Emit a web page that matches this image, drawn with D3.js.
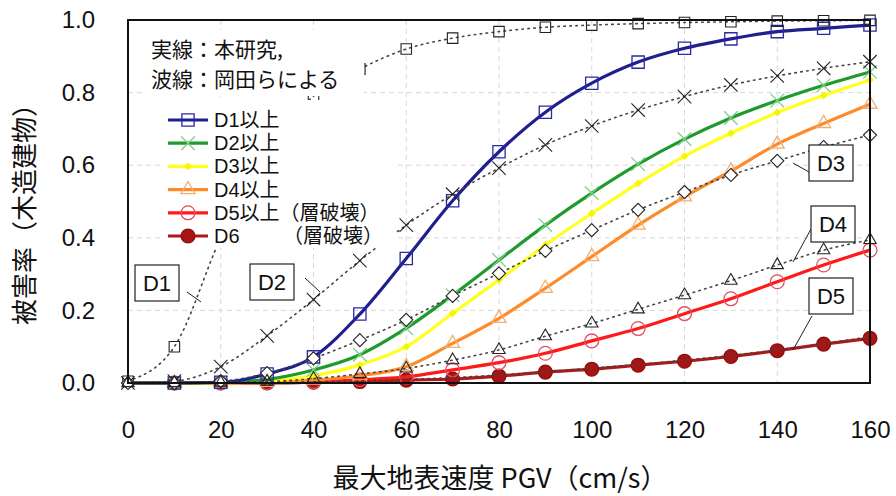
<!DOCTYPE html>
<html>
<head>
<meta charset="utf-8">
<script src="https://cdn.jsdelivr.net/npm/d3@7"></script>
<style>
  body { margin: 0; background: #fff; }
  svg { display: block; }
  .jp { font-family: "Noto Sans CJK JP", "Liberation Sans", sans-serif; }
  .lat { font-family: "Liberation Sans", "Noto Sans CJK JP", sans-serif; }
  .num { font-family: "Liberation Sans", Arial, sans-serif; }
</style>
</head>
<body>
<svg id="chart" width="896" height="496"></svg>
<script>
// PGV (cm/s)
const pgv = [0, 10, 20, 30, 40, 50, 60, 70, 80, 90, 100, 110, 120, 130, 140, 150, 160];

// 実線: 本研究
const d1 = [0, 0, 0.002, 0.025, 0.072, 0.19, 0.343, 0.502, 0.637, 0.746, 0.826, 0.884, 0.922, 0.948, 0.968, 0.977, 0.986];
const d2 = [0, 0, 0.001, 0.01, 0.036, 0.078, 0.151, 0.242, 0.339, 0.435, 0.523, 0.603, 0.672, 0.73, 0.778, 0.82, 0.857];
const d3v = [0, 0, 0, 0.005, 0.02, 0.05, 0.1, 0.192, 0.284, 0.38, 0.467, 0.55, 0.625, 0.688, 0.745, 0.792, 0.835];
const d4 = [0, 0, 0, 0.002, 0.008, 0.02, 0.045, 0.109, 0.178, 0.261, 0.348, 0.435, 0.513, 0.584, 0.658, 0.715, 0.768];
const d5 = [0, 0, 0, 0.001, 0.004, 0.009, 0.017, 0.036, 0.056, 0.082, 0.116, 0.15, 0.191, 0.232, 0.279, 0.325, 0.366];
const d6 = [0, 0, 0, 0, 0.002, 0.004, 0.008, 0.011, 0.019, 0.03, 0.038, 0.049, 0.06, 0.073, 0.089, 0.107, 0.123];

// 波線: 岡田らによる
const okD1 = [0.005, 0.1, 0.4, 0.64, 0.79, 0.865, 0.92, 0.95, 0.968, 0.98, 0.986, 0.99, 0.993, 0.995, 0.997, 0.998, 0.999];
const okD2 = [0, 0.005, 0.045, 0.13, 0.23, 0.337, 0.435, 0.52, 0.592, 0.656, 0.708, 0.752, 0.789, 0.821, 0.846, 0.867, 0.885];
const okD3 = [0, 0, 0.005, 0.027, 0.068, 0.118, 0.174, 0.24, 0.302, 0.364, 0.421, 0.477, 0.526, 0.573, 0.612, 0.65, 0.683];
const okD4 = [0, 0, 0.001, 0.004, 0.012, 0.025, 0.04, 0.063, 0.091, 0.129, 0.164, 0.203, 0.242, 0.282, 0.325, 0.366, 0.394];
const okD5 = [0, 0, 0, 0.001, 0.003, 0.006, 0.01, 0.015, 0.022, 0.031, 0.041, 0.051, 0.063, 0.076, 0.091, 0.108, 0.128];

const xTicks = [0, 20, 40, 60, 80, 100, 120, 140, 160];
const yTicks = [0, 0.2, 0.4, 0.6, 0.8, 1.0];

const svg = d3.select("#chart");
const pL = 128, pR = 870, pT = 20, pB = 383;

const x = d3.scaleLinear().domain([0, 160]).range([pL, pR]);
const y = d3.scaleLinear().domain([0, 1]).range([pB, pT]);

// grid
const grid = svg.append("g").attr("stroke", "#d8d8d8").attr("stroke-width", 1).attr("stroke-dasharray", "5,4");
grid.selectAll("line.v").data(xTicks.slice(1, -1)).join("line")
  .attr("x1", d => x(d)).attr("x2", d => x(d)).attr("y1", pT).attr("y2", pB);
grid.selectAll("line.h").data(yTicks.slice(1, -1)).join("line")
  .attr("y1", d => y(d)).attr("y2", d => y(d)).attr("x1", pL).attr("x2", pR);

const pts = vals => pgv.map((p, i) => [p, vals[i]]);
const line = d3.line().x(d => x(d[0])).y(d => y(d[1])).curve(d3.curveMonotoneX);

// Okada (dotted black)
const okada = [
  { vals: okD1, sym: d3.symbolSquare, size: 110, fill: "none" },
  { vals: okD2, sym: d3.symbolX, size: 120 },
  { vals: okD3, sym: d3.symbolDiamond2, size: 110, fill: "#fff" },
  { vals: okD4, sym: d3.symbolTriangle2, size: 110, fill: "none" },
  { vals: okD5, sym: null }
];

const gOk = svg.append("g");
okada.forEach(s => {
  gOk.append("path").attr("d", line(pts(s.vals)))
    .attr("fill", "none").attr("stroke", "#444").attr("stroke-width", 1.6)
    .attr("stroke-dasharray", "1.5,4.5").attr("stroke-linecap", "round");
});

// this study (solid)
const series = [
  { name: "D1以上", vals: d1, color: "#1f1f8f", sym: d3.symbolSquare, size: 150, mstroke: "#2a2aa0", mfill: "none" },
  { name: "D2以上", vals: d2, color: "#1f9a2c", sym: d3.symbolX, size: 120, mstroke: "#7fcf86", mfill: "none" },
  { name: "D3以上", vals: d3v, color: "#ffff20", sym: d3.symbolDiamond2, size: 40, mstroke: "none", mfill: "#f6f600" },
  { name: "D4以上", vals: d4, color: "#ff8a2a", sym: d3.symbolTriangle2, size: 140, mstroke: "#f0b070", mfill: "none" },
  { name: "D5以上（層破壊）", vals: d5, color: "#ff1a1a", sym: d3.symbolCircle, size: 150, mstroke: "#e05060", mfill: "none" },
  { name: "D6", vals: d6, color: "#b01818", sym: d3.symbolCircle, size: 150, mstroke: "#8a1010", mfill: "#a81414" }
];

const gSolid = svg.append("g");
series.slice().reverse().forEach(s => {
  gSolid.append("path").attr("d", line(pts(s.vals)))
    .attr("fill", "none").attr("stroke", s.color).attr("stroke-width", 3.2);
  gSolid.append("g").selectAll("path").data(pts(s.vals).slice(1)).join("path")
    .attr("transform", d => `translate(${x(d[0])},${y(d[1])})`)
    .attr("d", d3.symbol(s.sym, s.size))
    .attr("fill", s.mfill).attr("stroke", s.mstroke).attr("stroke-width", 1.3);
});

// Okada markers on top
gOk.raise();
okada.forEach(s => {
  if (!s.sym) return;
  svg.append("g").selectAll("path").data(pts(s.vals)).join("path")
    .attr("transform", d => `translate(${x(d[0])},${y(d[1])})`)
    .attr("d", d3.symbol(s.sym, s.size))
    .attr("fill", s.fill || "none").attr("stroke", "#222").attr("stroke-width", 1.1);
});

// white boxes for note & legend
svg.append("rect").attr("x", 146).attr("y", 30).attr("width", 218).attr("height", 66).attr("fill", "#fff");
svg.append("rect").attr("x", 160).attr("y", 100).attr("width", 236).attr("height", 148).attr("fill", "#fff");

const note = svg.append("text").attr("class", "jp").attr("font-size", 21).attr("fill", "#111");
note.append("tspan").attr("x", 151).attr("y", 57).text("実線：本研究,");
note.append("tspan").attr("x", 151).attr("y", 87).text("波線：岡田らによる");

// legend
const lg = svg.append("g");
const lgText = lg.append("text").attr("class", "lat").attr("font-size", 20).attr("fill", "#111");
series.forEach((s, i) => {
  const ly = 120 + i * 23.2;
  lg.append("line").attr("x1", 168).attr("x2", 208).attr("y1", ly).attr("y2", ly)
    .attr("stroke", s.color).attr("stroke-width", 3.2);
  lg.append("path").attr("transform", `translate(188,${ly})`)
    .attr("d", d3.symbol(s.sym, s.size)).attr("fill", s.mfill).attr("stroke", s.mstroke).attr("stroke-width", 1.3);
  lgText.append("tspan").attr("x", 214).attr("y", ly + 7).text(s.name);
});
lgText.append("tspan").attr("x", 283).attr("y", 120 + 5 * 23.2 + 7).text("（層破壊）");
lgText.raise();

// frame
svg.append("rect").attr("x", pL).attr("y", pT).attr("width", pR - pL).attr("height", pB - pT)
  .attr("fill", "none").attr("stroke", "#111").attr("stroke-width", 2);

// axes
const xAxis = svg.append("g").attr("transform", `translate(0,${pB})`)
  .call(d3.axisBottom(x).tickValues(xTicks).tickSize(0).tickPadding(38));
const yAxis = svg.append("g").attr("transform", `translate(${pL},0)`)
  .call(d3.axisLeft(y).tickValues(yTicks).tickSize(0).tickPadding(33).tickFormat(d3.format(".1f")));
[xAxis, yAxis].forEach(a => {
  a.select(".domain").remove();
  a.selectAll("text").attr("class", "num").attr("font-size", 24).attr("fill", "#111");
});

// labeled boxes
const boxes = [
  { t: "D1", x0: 135, y0: 265, lx1: 187, ly1: 292, lx2: 201, ly2: 302 },
  { t: "D2", x0: 250, y0: 264, lx1: 305, ly1: 278, lx2: 320, ly2: 292 },
  { t: "D3", x0: 809, y0: 145, lx1: 793, ly1: 163, lx2: 809, ly2: 172 },
  { t: "D4", x0: 811, y0: 206, lx1: 793, ly1: 262, lx2: 811, ly2: 229 },
  { t: "D5", x0: 809, y0: 278, lx1: 793, ly1: 350, lx2: 812, ly2: 316 }
];
boxes.forEach(b => {
  svg.append("line").attr("x1", b.lx1).attr("y1", b.ly1).attr("x2", b.lx2).attr("y2", b.ly2)
    .attr("stroke", "#222").attr("stroke-width", 1);
  svg.append("rect").attr("x", b.x0).attr("y", b.y0).attr("width", 44).attr("height", 36)
    .attr("fill", "#fff").attr("stroke", "#222").attr("stroke-width", 1.2);
  svg.append("text").attr("class", "num").attr("x", b.x0 + 22).attr("y", b.y0 + 26)
    .attr("text-anchor", "middle").attr("font-size", 22).attr("fill", "#111").text(b.t);
});

// axis titles
svg.append("text").attr("class", "jp").attr("x", 500).attr("y", 488).attr("text-anchor", "middle")
  .attr("font-size", 27).attr("fill", "#111").text("最大地表速度 PGV（cm/s）");
svg.append("text").attr("class", "jp").attr("transform", "translate(22,208) rotate(-90)")
  .attr("text-anchor", "middle").attr("dominant-baseline", "central")
  .attr("font-size", 26).attr("fill", "#111").text("被害率（木造建物）");
</script>
</body>
</html>
